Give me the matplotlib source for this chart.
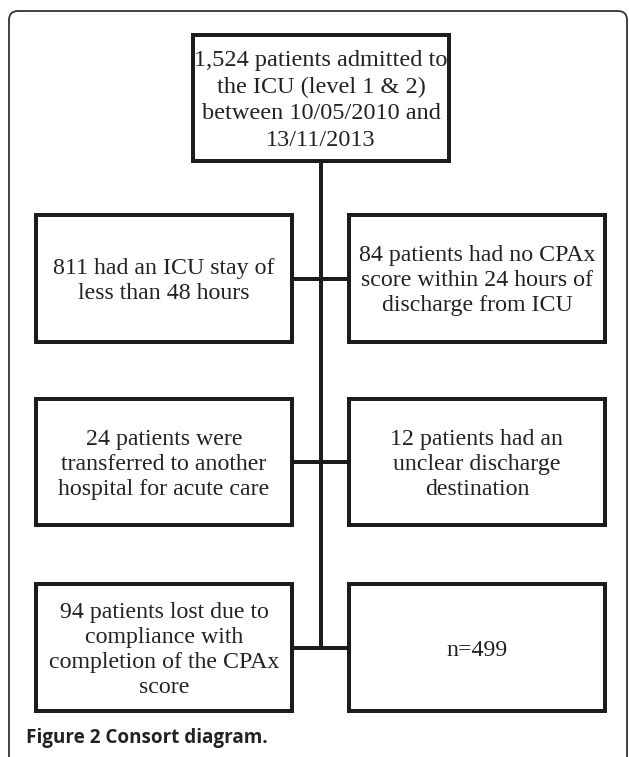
import matplotlib.pyplot as plt
from matplotlib.patches import Rectangle, FancyBboxPatch

# ── canvas ───────────────────────────────────────────────────────────────────

W, H = 629, 757          # output size in pixels
DPI = 100
PX = 72.0 / DPI          # one pixel in points (for line widths)

# ── diagram content ──────────────────────────────────────────────────────────

top_label = ("1,524 patients admitted to\nthe ICU (level 1 & 2)\n"
             "between 10/05/2010 and\n13/11/2013")

left_labels = [
    "811 had an ICU stay of\nless than 48 hours",
    "24 patients were\ntransferred to another\nhospital for acute care",
    "94 patients lost due to\ncompliance with\ncompletion of the CPAx\nscore",
]
right_labels = [
    "84 patients had no CPAx\nscore within 24 hours of\ndischarge from ICU",
    "12 patients had an\nunclear discharge\ndestination",
    "n=499",
]

caption = "Figure 2 Consort diagram."

# ── layout (pixel coordinates, y grows downward) ─────────────────────────────

TOP_BOX = (193, 35, 449, 161)                  # x0, y0, x1, y1 (line centres)
LEFT_X = (36, 292)
RIGHT_X = (349, 605)
ROWS_Y = [(215, 342), (399, 525), (584, 711)]
SPINE_X = 321
BOX_LW = 4 * PX
INK = "#1c1c1c"
SERIF = "Liberation Serif"
FS = 17.2

fig = plt.figure(figsize=(W / DPI, H / DPI), dpi=DPI)
ax = fig.add_axes([0, 0, 1, 1])
ax.set_xlim(0, W)
ax.set_ylim(H, 0)
ax.axis("off")

# outer rounded frame (runs off the right and bottom edges)
frame = FancyBboxPatch((9, 11), 618, 760,
                       boxstyle="round,pad=0,rounding_size=9",
                       linewidth=1.3, edgecolor="#333333", facecolor="none")
ax.add_patch(frame)


def box(x0, y0, x1, y1, text, fs=FS, ls=1.25):
    ax.add_patch(Rectangle((x0, y0), x1 - x0, y1 - y0, linewidth=BOX_LW,
                           edgecolor=INK, facecolor="white", zorder=3,
                           joinstyle="miter"))
    ax.text((x0 + x1) / 2, (y0 + y1) / 2 + 2.5, text, ha="center", va="center",
            multialignment="center", fontsize=fs, family=SERIF,
            color="#222222", linespacing=ls, zorder=4)


# spine and branches
last_mid = (ROWS_Y[-1][0] + ROWS_Y[-1][1]) / 2
ax.plot([SPINE_X, SPINE_X], [TOP_BOX[3], last_mid], color=INK,
        linewidth=BOX_LW, solid_capstyle="butt", zorder=2)
for y0, y1 in ROWS_Y:
    mid = (y0 + y1) / 2
    ax.plot([LEFT_X[1], RIGHT_X[0]], [mid, mid], color=INK,
            linewidth=BOX_LW, solid_capstyle="butt", zorder=2)

box(*TOP_BOX, top_label, fs=17.5, ls=1.34)
for (y0, y1), lt, rt in zip(ROWS_Y, left_labels, right_labels):
    box(LEFT_X[0], y0, LEFT_X[1], y1, lt)
    box(RIGHT_X[0], y0, RIGHT_X[1], y1, rt)

ax.text(26, 738, caption, ha="left", va="center", fontsize=13.6,
        family="Open Sans", weight="bold", color="#222222")

fig.savefig("out.png", dpi=DPI, facecolor="white")
